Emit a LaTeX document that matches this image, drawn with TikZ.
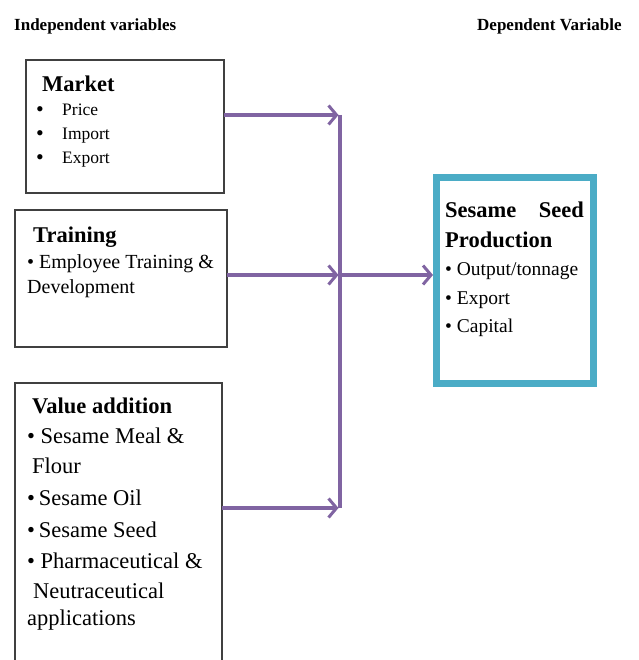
\documentclass[tikz,border=0pt]{standalone}
\usepackage{fontspec}
\setmainfont{Liberation Serif}
\usetikzlibrary{arrows.meta}
\definecolor{arrowpurple}{HTML}{8064A2}
\definecolor{boxteal}{HTML}{4BACC6}
\definecolor{boxgray}{HTML}{404040}
\tikzset{
  x=1pt,y=-1pt,
  plainbox/.style={draw=boxgray,line width=1.4pt,rectangle,inner sep=0pt,outer sep=0pt,anchor=north west},
  txt/.style={anchor=base west,inner sep=0pt},
  hdr/.style={txt,font=\fontsize{17}{20}\selectfont\bfseries},
  ttl/.style={txt,font=\fontsize{22.5}{26}\selectfont\bfseries},
  itemA/.style={txt,font=\fontsize{17.5}{21}\selectfont},
  bulA/.style={txt,font=\fontsize{22}{24}\selectfont},
  itemB/.style={txt,font=\fontsize{20}{24}\selectfont},
  itemC/.style={txt,font=\fontsize{22.5}{26}\selectfont},
  itemD/.style={txt,font=\fontsize{19.5}{23}\selectfont},
  flow/.style={draw=arrowpurple,line width=3.2pt},
  flowarrow/.style={flow,-{Straight Barb[length=8pt,width=19pt,line width=3pt]}},
}
\begin{document}
\begin{tikzpicture}
\useasboundingbox (0,0) rectangle (638,660);
\begin{scope}
\clip (0,0) rectangle (638,660);
% headers
\node[hdr] (indep) at (14,31) {Independent variables};
\node[hdr] (dep) at (477,31) {Dependent Variable};

% Market box
\node[plainbox,minimum width=198pt,minimum height=133pt] (market) at (26,60) {};
\node[ttl] (mkt) at (42,92) {Market};
\node[bulA] (mb1) at (36,117) {\textbullet};
\node[itemA] (m1) at (62,116) {Price};
\node[bulA] (mb2) at (36,141) {\textbullet};
\node[itemA] (m2) at (62,140) {Import};
\node[bulA] (mb3) at (36,165) {\textbullet};
\node[itemA] (m3) at (62,164) {Export};

% Training box
\node[plainbox,minimum width=212pt,minimum height=137pt] (training) at (15,210) {};
\node[ttl] (trn) at (33,242) {Training};
\node[itemB] (t1) at (27,268) {\textbullet\ Employee Training \&};
\node[itemB] (t2) at (27,293) {Development};

% Value addition box (runs past the bottom edge)
\node[plainbox,minimum width=207pt,minimum height=300pt] (value) at (15,383) {};
\node[ttl] (val) at (32,413) {Value addition};
\node[itemC] (v1) at (27,443) {\textbullet\ Sesame Meal \&};
\node[itemC] (v2) at (32,473) {Flour};
\node[itemC] (v3) at (27,505) {\textbullet\,Sesame Oil};
\node[itemC] (v4) at (27,537) {\textbullet\,Sesame Seed};
\node[itemC] (v5) at (27,568) {\textbullet\ Pharmaceutical \&};
\node[itemC] (v6) at (33,598) {Neutraceutical};
\node[itemC] (v7) at (27,625) {applications};

% Sesame Seed Production box
\node[draw=boxteal,line width=7pt,rectangle,inner sep=0pt,outer sep=0pt,minimum width=157pt,minimum height=206pt,anchor=north west] (sesame) at (436.5,177.5) {};
\node[ttl] (s1a) at (445,217) {Sesame};
\node[ttl,anchor=base east] (s1b) at (584,217) {Seed};
\node[ttl] (s2) at (445,247) {Production};
\node[itemD] (o1) at (445,275) {\textbullet\ Output/tonnage};
\node[itemD] (o2) at (445,304) {\textbullet\ Export};
\node[itemD] (o3) at (445,332) {\textbullet\ Capital};

% connectors
\coordinate (jtop) at (340,115);
\coordinate (jmid) at (340,275);
\coordinate (jbot) at (340,508);
\draw[flow] (jtop) -- (jbot);
\draw[flowarrow] (market.east |- jtop) -- ([xshift=-1.5pt]jtop);
\draw[flowarrow] (training.east |- jmid) -- ([xshift=-1.5pt]jmid);
\draw[flowarrow] (value.east |- jbot) -- ([xshift=-1.5pt]jbot);
\draw[flowarrow] (jmid) -- ([xshift=-3.5pt]sesame.west |- jmid);
\end{scope}
\end{tikzpicture}
\end{document}
